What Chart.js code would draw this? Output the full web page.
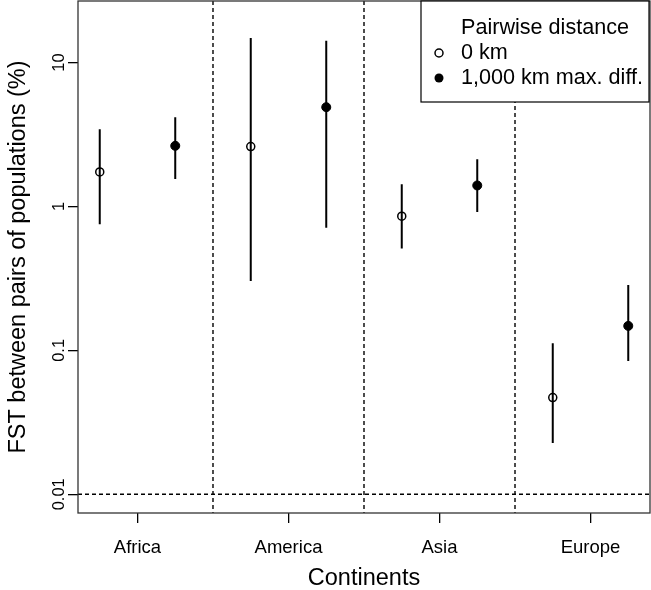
<!DOCTYPE html>
<html>
<head>
<meta charset="utf-8">
<script src="https://cdn.jsdelivr.net/npm/chart.js@4/dist/chart.umd.min.js"></script>
<style>
  html, body { margin: 0; padding: 0; background: #fff; }
  #wrap { width: 651px; height: 590px; }
</style>
</head>
<body>
<div id="wrap"><canvas id="chart" width="651" height="590"></canvas></div>
<script>
// FST by continent, log scale, two pairwise distances with intervals
const categories = ["Africa", "America", "Asia", "Europe"];

const fst0km = [1.74, 2.61, 0.856, 0.047];
const fst0kmLow = [0.753, 0.304, 0.51, 0.0227];
const fst0kmHigh = [3.44, 14.8, 1.43, 0.112];

const fst1000km = [2.64, 4.9, 1.4, 0.148];
const fst1000kmLow = [1.555, 0.713, 0.917, 0.0845];
const fst1000kmHigh = [4.17, 14.2, 2.13, 0.285];

const yTicks = [0.01, 0.1, 1, 10];
const yTickLabels = ["0.01", "0.1", "1", "10"];
const separators = [1.5, 2.5, 3.5];
const refLine = 0.01;

const FONT = "'Liberation Sans', Arial, Helvetica, sans-serif";
const shift = 0.25;

function points(values, dx) {
  return values.map((v, i) => ({ x: i + 1 + dx, y: v }));
}

// vertical segments low->high, split by null gaps
function bars(low, high, dx) {
  const out = [];
  low.forEach((lo, i) => {
    out.push({ x: i + 1 + dx, y: lo });
    out.push({ x: i + 1 + dx, y: high[i] });
    out.push({ x: i + 1 + dx, y: null });
  });
  return out;
}

const extras = {
  id: "extras",
  beforeDatasetsDraw(chart) {
    const { ctx, chartArea: a, scales: { x, y } } = chart;
    ctx.save();
    ctx.strokeStyle = "#000";
    ctx.lineWidth = 1.4;
    ctx.setLineDash([4, 3]);
    separators.forEach(s => {
      const px = x.getPixelForValue(s);
      ctx.beginPath();
      ctx.moveTo(px, a.top);
      ctx.lineTo(px, a.bottom);
      ctx.stroke();
    });
    const py = y.getPixelForValue(refLine);
    ctx.beginPath();
    ctx.moveTo(a.left, py);
    ctx.lineTo(a.right, py);
    ctx.stroke();
    ctx.restore();
  },
  afterDraw(chart) {
    const { ctx, chartArea: a, scales: { y } } = chart;
    ctx.save();
    // box
    ctx.strokeStyle = "#333";
    ctx.lineWidth = 1.3;
    ctx.strokeRect(a.left, a.top, a.right - a.left, a.bottom - a.top);

    // rotated y tick labels
    ctx.fillStyle = "#000";
    ctx.font = "16.5px " + FONT;
    ctx.textAlign = "center";
    ctx.textBaseline = "alphabetic";
    yTicks.forEach((v, i) => {
      const py = y.getPixelForValue(v);
      ctx.save();
      ctx.translate(63.5, py);
      ctx.rotate(-Math.PI / 2);
      ctx.fillText(yTickLabels[i], 0, 0);
      ctx.restore();
    });

    // legend
    const lx = 421, ly = a.top, lw = a.right - 421 - 1, lh = 101;
    ctx.fillStyle = "#fff";
    ctx.fillRect(lx, ly, lw, lh);
    ctx.strokeStyle = "#000";
    ctx.lineWidth = 1.2;
    ctx.strokeRect(lx, ly, lw, lh);
    ctx.fillStyle = "#000";
    ctx.font = "21.6px " + FONT;
    ctx.textAlign = "left";
    ctx.textBaseline = "middle";
    ctx.fillText("Pairwise distance", 461, 28);
    ctx.fillText("0 km", 461, 53);
    ctx.fillText("1,000 km max. diff.", 461, 78);
    ctx.lineWidth = 1.5;
    ctx.beginPath();
    ctx.arc(439, 53, 4, 0, Math.PI * 2);
    ctx.stroke();
    ctx.beginPath();
    ctx.arc(439, 78, 4.5, 0, Math.PI * 2);
    ctx.fill();
    ctx.restore();
  }
};

new Chart(document.getElementById("chart"), {
  data: {
    datasets: [
      {
        type: "line",
        data: bars(fst0kmLow, fst0kmHigh, -shift),
        borderColor: "#000",
        borderWidth: 2,
        pointRadius: 0,
        spanGaps: false,
        order: 2
      },
      {
        type: "line",
        data: bars(fst1000kmLow, fst1000kmHigh, shift),
        borderColor: "#000",
        borderWidth: 2,
        pointRadius: 0,
        spanGaps: false,
        order: 2
      },
      {
        type: "scatter",
        label: "0 km",
        data: points(fst0km, -shift),
        pointStyle: "circle",
        pointRadius: 4,
        borderWidth: 1.5,
        borderColor: "#000",
        backgroundColor: "rgba(0,0,0,0)",
        order: 1
      },
      {
        type: "scatter",
        label: "1,000 km max. diff.",
        data: points(fst1000km, shift),
        pointStyle: "circle",
        pointRadius: 4.5,
        borderWidth: 1,
        borderColor: "#000",
        backgroundColor: "#000",
        order: 1
      }
    ]
  },
  options: {
    responsive: false,
    animation: false,
    layout: { autoPadding: false, padding: { top: 1, right: 1, left: 0, bottom: 0 } },
    plugins: {
      legend: { display: false },
      tooltip: { enabled: false }
    },
    scales: {
      x: {
        type: "linear",
        min: 0.606,
        max: 4.394,
        afterBuildTicks: s => { s.ticks = categories.map((c, i) => ({ value: i + 1 })); },
        afterFit: s => { s.height = 77; },
        ticks: {
          autoSkip: false,
          maxRotation: 0,
          padding: 14,
          color: "#000",
          font: { family: FONT, size: 18.5 },
          callback: (v, i) => categories[i]
        },
        grid: { drawOnChartArea: false, drawTicks: true, tickLength: 10, color: "#000", lineWidth: 1.3 },
        border: { display: false },
        title: {
          display: true,
          text: "Continents",
          color: "#000",
          font: { family: FONT, size: 23.5, lineHeight: 1 },
          padding: { top: 0, bottom: 0 }
        }
      },
      y: {
        type: "logarithmic",
        min: 0.00741,
        max: 26.8,
        afterBuildTicks: s => { s.ticks = yTicks.map(v => ({ value: v })); },
        afterFit: s => { s.width = 78; },
        ticks: { display: false },
        grid: { drawOnChartArea: false, drawTicks: true, tickLength: 10, color: "#000", lineWidth: 1.3 },
        border: { display: false },
        title: {
          display: true,
          text: "FST between pairs of populations (%)",
          color: "#000",
          font: { family: FONT, size: 23.5 },
          padding: { top: 4, bottom: 0 }
        }
      }
    }
  },
  plugins: [extras]
});
</script>
</body>
</html>
